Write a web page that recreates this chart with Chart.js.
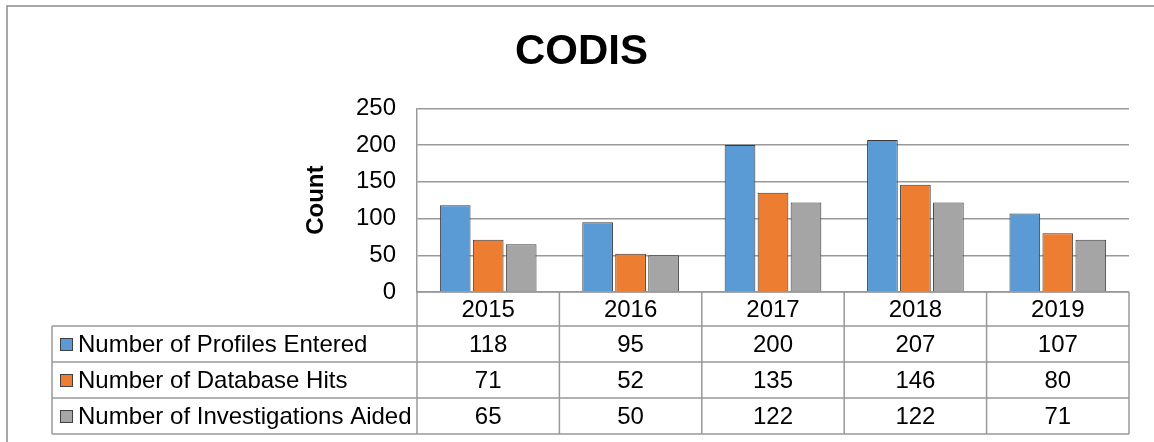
<!DOCTYPE html>
<html>
<head>
<meta charset="utf-8">
<title>CODIS</title>
<script src="https://cdn.jsdelivr.net/npm/chart.js@4/dist/chart.umd.min.js"></script>
<style>
  html, body { margin: 0; padding: 0; background: #fff; }
  #wrap { width: 1154px; height: 442px; }
</style>
</head>
<body>
<div id="wrap"><canvas id="codisChart" width="1154" height="442"></canvas></div>
<script>
// chart values
const years = ["2015", "2016", "2017", "2018", "2019"]
const profilesEntered = [118, 95, 200, 207, 107]
const databaseHits = [71, 52, 135, 146, 80]
const investigationsAided = [65, 50, 122, 122, 71]
const seriesNames = ["Number of Profiles Entered", "Number of Database Hits", "Number of Investigations Aided"]
const seriesColors = ["#5b9bd5", "#ed7d31", "#a5a5a5"]
const yMax = 250
const yStep = 50

const FONT = "'Liberation Sans', Arial, sans-serif"
const LINE = "#999999"

Chart.defaults.font.family = FONT
Chart.defaults.color = "#000"

// frame round the whole chart
const frame = {
  id: "frame",
  beforeDraw(chart) {
    const ctx = chart.ctx
    ctx.save()
    ctx.fillStyle = "#fff"
    ctx.fillRect(0, 0, chart.width, chart.height)
    ctx.strokeStyle = "#8a8a8a"
    ctx.lineWidth = 1.5
    ctx.strokeRect(7, 6, chart.width + 20, chart.height + 20)
    ctx.restore()
  }
}

// data table under the plot, columns follow the x scale
const dataTable = {
  id: "dataTable",
  afterDraw(chart) {
    const { ctx, chartArea } = chart
    const xs = chart.scales.x
    const labels = chart.data.labels
    const sets = chart.data.datasets
    const step = (chartArea.right - chartArea.left) / labels.length
    const top = chartArea.bottom
    const headH = 34
    const rowH = 36
    const legendLeft = 52
    const bottom = top + headH + rowH * sets.length

    ctx.save()
    ctx.strokeStyle = LINE
    ctx.lineWidth = 1.5

    ctx.beginPath()
    // header top + row lines
    ctx.moveTo(chartArea.left, top); ctx.lineTo(chartArea.right, top)
    for (let r = 0; r <= sets.length; r++) {
      const y = top + headH + r * rowH
      ctx.moveTo(legendLeft, y); ctx.lineTo(chartArea.right, y)
    }
    // vertical lines
    for (let c = 0; c <= labels.length; c++) {
      const x = chartArea.left + c * step
      ctx.moveTo(x, top); ctx.lineTo(x, bottom)
    }
    ctx.moveTo(legendLeft, top + headH); ctx.lineTo(legendLeft, bottom)
    ctx.stroke()

    ctx.fillStyle = "#000"
    ctx.font = "24px " + FONT
    ctx.textBaseline = "middle"
    ctx.textAlign = "center"
    labels.forEach((lab, i) => {
      ctx.fillText(lab, xs.getPixelForValue(i), top + headH / 2 + 1)
    })

    sets.forEach((ds, r) => {
      const cy = top + headH + r * rowH + rowH / 2 + 1
      ctx.textAlign = "center"
      ds.data.forEach((v, i) => {
        ctx.fillText(String(v), xs.getPixelForValue(i), cy)
      })
      // legend key
      ctx.fillStyle = ds.backgroundColor
      ctx.fillRect(60, cy - 7, 13, 13)
      ctx.strokeStyle = "#404040"
      ctx.lineWidth = 1
      ctx.strokeRect(60.5, cy - 6.5, 12, 12)
      ctx.fillStyle = "#000"
      ctx.textAlign = "left"
      ctx.fillText(ds.label, 78, cy)
    })
    ctx.restore()
  }
}

const seriesData = [profilesEntered, databaseHits, investigationsAided]

new Chart(document.getElementById("codisChart"), {
  type: "bar",
  data: {
    labels: years,
    datasets: seriesNames.map((name, i) => ({
      label: name,
      data: seriesData[i],
      backgroundColor: seriesColors[i],
      borderColor: "#3a3a3a",
      borderWidth: 1,
      categoryPercentage: 0.695,
      barPercentage: 0.93
    }))
  },
  options: {
    responsive: false,
    animation: false,
    layout: {
      padding: { left: 34, right: 25, top: 0, bottom: 150 }
    },
    plugins: {
      legend: { display: false },
      tooltip: { enabled: false },
      title: {
        display: true,
        text: "CODIS",
        color: "#000",
        font: { size: 42, weight: "bold", lineHeight: 1.2 },
        padding: { top: 27, bottom: 31 }
      }
    },
    scales: {
      x: {
        display: false
      },
      y: {
        min: 0,
        max: yMax,
        ticks: {
          stepSize: yStep,
          padding: 21,
          color: "#000",
          font: { size: 24 }
        },
        grid: {
          color: LINE,
          lineWidth: 1.5,
          drawTicks: false
        },
        border: { display: true, color: LINE, width: 1.5 },
        title: {
          display: true,
          text: "Count",
          color: "#000",
          font: { size: 24, weight: "bold", lineHeight: 1.2 },
          padding: { top: 268, bottom: 0 }
        },
        afterFit(scale) {
          scale.width = 383
        }
      }
    }
  },
  plugins: [frame, dataTable]
})
</script>
</body>
</html>
